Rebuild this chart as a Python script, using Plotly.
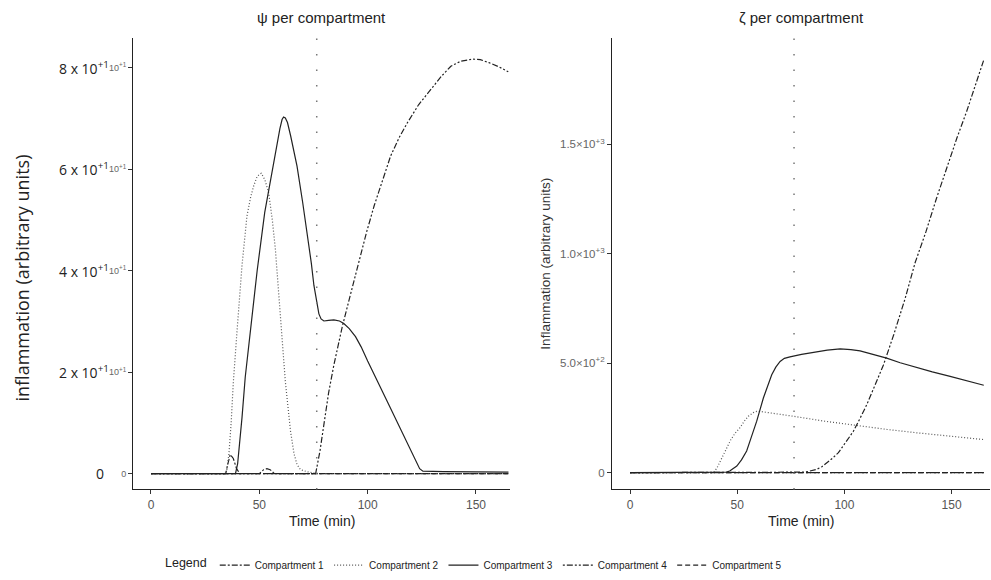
import plotly.graph_objects as go
from plotly.subplots import make_subplots

# ---------------- data ----------------
SERIES_NAMES = ["Compartment 1", "Compartment 2", "Compartment 3", "Compartment 4", "Compartment 5"]

# left panel (psi)
psi_c1_t = [0, 34.5, 35.5, 36.6, 38, 39.5, 41, 50, 52, 53.5, 55, 57, 165]
psi_c1_v = [0, 0, 2, 3.8, 3, 1, 0, 0, 0.8, 1.0, 0.8, 0, 0]
psi_c2_t = [0, 34, 35, 36, 37, 38, 39.7, 42, 44.3, 46, 47.4, 49, 50.9, 52.5, 54.3, 56, 57.4, 59.7, 62, 64.4, 66, 67.4, 69, 72, 75, 77, 165]
psi_c2_v = [0, 0, 0.8, 4, 10, 18, 28, 41, 50.8, 54.5, 56.7, 58.6, 59.2, 58, 55.4, 50, 44.3, 31.2, 18.2, 8.4, 4, 1.8, 0.8, 0.4, 0.2, 0, 0]
psi_c3_t = [0, 39, 40, 41, 42, 43.5, 46, 49, 52.5, 56, 58, 59.5, 60.5, 61.2, 62, 63, 64.5, 67.4, 70, 72.1, 74, 75.2, 76.5, 77.5, 78.5,
            79.8, 82, 84.4, 87, 89, 91.5, 94.4, 97, 100, 110, 120, 122.5, 124, 125.5, 135, 165]
psi_c3_v = [0, 0, 2, 6, 11, 19, 28.5, 40, 51.5, 60, 64.5, 68, 69.8, 70.3, 70.1, 69.2, 66.5, 60.6, 53.5, 47.6, 41.5, 37.1, 33.5, 31.5, 30.5,
            30.1, 30.2, 30.3, 30.1, 29.6, 28.6, 27, 25, 22.2, 13.4, 4.5, 2.2, 1.0, 0.5, 0.4, 0.3]
psi_c4_t = [0, 76, 78, 80, 82, 84.4, 86, 88.3, 92, 96, 99.5, 103, 106.8, 110.6, 114.5, 118.4, 123.5, 129, 134, 138.4, 143, 148.5, 152, 156, 160.5, 164.9]
psi_c4_v = [0, 0, 4.5, 10, 16, 21.4, 24.5, 29, 35.2, 42, 47.6, 52.8, 57.8, 62.6, 66.2, 69.2, 72.7, 75.7, 78.3, 80.3, 81.3, 81.7, 81.6, 81, 80.2, 79.2]
psi_c5_t = [0, 165]
psi_c5_v = [0, 0]

# right panel (zeta)
zeta_c1_t = [0, 165]
zeta_c1_v = [0, 0]
zeta_c2_t = [0, 38.9, 40.5, 42, 43.5, 45.1, 47, 49, 51.3, 53.3, 55.2, 57.5, 59.1, 61, 65, 76.6, 90, 105.7, 120, 133.7, 150, 165]
zeta_c2_v = [0, 0, 20, 50, 82, 114, 150, 180, 205, 235, 258, 274, 280, 279, 274, 257, 236, 214, 197, 182, 166, 151]
zeta_c3_t = [0, 43.5, 45, 46.5, 48, 49.8, 52, 54.4, 56.5, 59.1, 62.2, 66.1, 68, 70, 72, 74.6, 80, 87.1, 92, 98, 103, 107.3,
             113, 119.7, 126, 133.7, 141, 149.3, 157, 165]
zeta_c3_v = [0, 0, 2, 7, 16, 30, 58, 98.6, 160, 235, 341, 447, 482, 508, 522, 529, 540, 553, 560, 565, 562, 556,
             542, 523, 502, 480, 460, 440, 420, 399]
zeta_c4_t = [0, 79.3, 81, 83, 85, 87.1, 89.5, 92, 94.5, 97.2, 100.5, 104.2, 107.3, 110.4, 114.2, 118.2, 123, 128.3, 133, 138,
             143, 148, 152.5, 157, 161, 165]
zeta_c4_v = [0, 0, 2, 5, 9, 15, 27, 45, 66, 91, 135, 189, 248, 310, 398, 492, 630, 795, 960, 1100,
             1255, 1400, 1530, 1650, 1770, 1886]
zeta_c5_t = [0, 165]
zeta_c5_v = [0, 0]

VLINE_T = 76.5

X_TICKS = [0, 50, 100, 150]
PSI_TICKVALS = [0, 20, 40, 60, 80]
PSI_SMALL_TEXT = ["0", "10<sup>+1</sup>", "10<sup>+1</sup>", "10<sup>+1</sup>", "10<sup>+1</sup>"]
PSI_BIG_TEXT = ["0", "2 x 10<sup>+1</sup>", "4 x 10<sup>+1</sup>", "6 x 10<sup>+1</sup>", "8 x 10<sup>+1</sup>"]
ZETA_TICKVALS = [0, 500, 1000, 1500]
ZETA_TICKTEXT = ["0", "5.0\u00d710<sup>+2</sup>", "1.0\u00d710<sup>+3</sup>", "1.5\u00d710<sup>+3</sup>"]

# ---------------- styles ----------------
DASHES = ["6px,2px,2px,2px", "1px,2px", "solid", "2px,2px,6px,2px,2px,2px", "5px,3px"]
COLORS = ["#222222", "#555555", "#222222", "#222222", "#222222"]

psi = [(psi_c1_t, psi_c1_v), (psi_c2_t, psi_c2_v), (psi_c3_t, psi_c3_v), (psi_c4_t, psi_c4_v), (psi_c5_t, psi_c5_v)]
zeta = [(zeta_c1_t, zeta_c1_v), (zeta_c2_t, zeta_c2_v), (zeta_c3_t, zeta_c3_v), (zeta_c4_t, zeta_c4_v), (zeta_c5_t, zeta_c5_v)]

fig = make_subplots(rows=1, cols=2)

for i, name in enumerate(SERIES_NAMES):
    t, v = psi[i]
    fig.add_trace(go.Scatter(x=t, y=v, mode="lines", name=name, legendgroup=name,
                             line=dict(color=COLORS[i], width=1.2, dash=DASHES[i]),
                             showlegend=True), row=1, col=1)
for i, name in enumerate(SERIES_NAMES):
    t, v = zeta[i]
    fig.add_trace(go.Scatter(x=t, y=v, mode="lines", name=name, legendgroup=name,
                             line=dict(color=COLORS[i], width=1.2, dash=DASHES[i]),
                             showlegend=False), row=1, col=2)

for xr in ["x", "x2"]:
    fig.add_shape(type="line", xref=xr, yref=("y domain" if xr == "x" else "y2 domain"),
                  x0=VLINE_T, x1=VLINE_T, y0=0, y1=1,
                  line=dict(color="#777777", width=1.5, dash="1.5px,14px"))

Y_DOM = [(580 - 492) / 580, (580 - 38) / 580]
axis_common = dict(showline=True, linecolor="#222", linewidth=1, ticks="outside", ticklen=4,
                   tickcolor="#333", showgrid=False, zeroline=False,
                   tickfont=dict(family="Liberation Sans, Arial", size=12, color="#555"))

fig.update_xaxes(domain=[133 / 991, 510 / 991], range=[-8.3, 165.7], tickvals=X_TICKS, row=1, col=1, **axis_common)
fig.update_xaxes(domain=[612 / 991, 990 / 991], range=[-8.4, 167.9], tickvals=X_TICKS, row=1, col=2, **axis_common)

y_left = dict(axis_common)
y_left["tickfont"] = dict(family="Liberation Sans, Arial", size=9, color="#666")
y_right = dict(axis_common)
y_right["tickfont"] = dict(family="Liberation Sans, Arial", size=11.5, color="#666")
fig.update_yaxes(domain=Y_DOM, range=[-3.1, 85.9], tickvals=PSI_TICKVALS, ticktext=PSI_SMALL_TEXT, row=1, col=1, **y_left)
fig.update_yaxes(domain=Y_DOM, range=[-77, 1987], tickvals=ZETA_TICKVALS, ticktext=ZETA_TICKTEXT, row=1, col=2, **y_right)

ann = []
# big overlaid tick labels on left panel
for val, txt in zip(PSI_TICKVALS, PSI_BIG_TEXT):
    ann.append(dict(xref="x domain", yref="y", x=0, y=val, text=txt, showarrow=False,
                    xanchor="right", yanchor="middle", xshift=(-27 if val == 0 else -22),
                    font=dict(family="Open Sans", size=14, color="#222")))
# panel titles
ann.append(dict(xref="x domain", yref="paper", x=0.5, y=1 - 18 / 580, text="\u03c8 per compartment",
                showarrow=False, xanchor="center", yanchor="middle",
                font=dict(family="Liberation Sans, Arial", size=15, color="#222")))
ann.append(dict(xref="x2 domain", yref="paper", x=0.5, y=1 - 18 / 580, text="\u03b6 per compartment",
                showarrow=False, xanchor="center", yanchor="middle",
                font=dict(family="Liberation Sans, Arial", size=15, color="#222")))
# x titles
for xr in ["x domain", "x2 domain"]:
    ann.append(dict(xref=xr, yref="paper", x=0.5, y=(580 - 524) / 580, text="Time (min)",
                    showarrow=False, xanchor="center", yanchor="middle",
                    font=dict(family="Liberation Sans, Arial", size=14, color="#222")))
# y titles
ann.append(dict(xref="paper", yref="paper", x=22 / 991, y=(580 - 280) / 580, text="inflammation (arbitrary units)",
                showarrow=False, textangle=-90, xanchor="center", yanchor="middle",
                font=dict(family="Open Sans", size=18, color="#222")))
ann.append(dict(xref="paper", yref="paper", x=546 / 991, y=(580 - 265) / 580, text="Inflammation (arbitrary units)",
                showarrow=False, textangle=-90, xanchor="center", yanchor="middle",
                font=dict(family="Liberation Sans, Arial", size=13.5, color="#333")))

fig.update_layout(
    width=991, height=580,
    margin=dict(l=0, r=0, t=0, b=0),
    plot_bgcolor="white", paper_bgcolor="white",
    annotations=ann,
    legend=dict(orientation="h", x=475 / 991, xanchor="center", y=(580 - 568) / 580, yanchor="middle",
                title=dict(text="Legend", font=dict(family="Liberation Sans, Arial", size=12.5, color="#222")),
                font=dict(family="Liberation Sans, Arial", size=10, color="#222"),
                itemwidth=30, tracegroupgap=0, bgcolor="rgba(0,0,0,0)"),
)

fig.write_html("out.html")
